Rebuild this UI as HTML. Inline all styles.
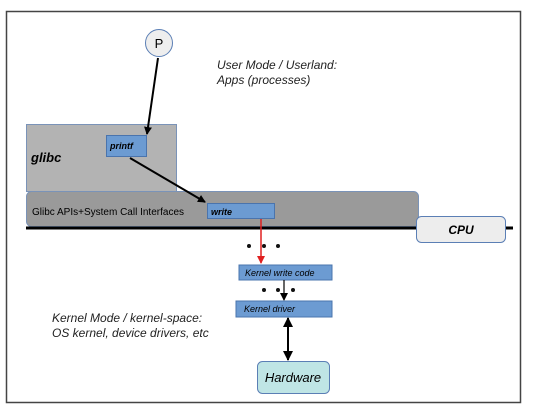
<!DOCTYPE html>
<html><head><style>
body{margin:0;width:538px;height:413px;background:#fff;overflow:hidden}
</style></head><body>
<svg width="538" height="413" xmlns="http://www.w3.org/2000/svg" font-family="Liberation Sans, sans-serif">
<defs>
<marker id="a" markerWidth="8" markerHeight="8" refX="7" refY="4" orient="auto" markerUnits="userSpaceOnUse"><path d="M0,0 L8,4 L0,8 z" fill="#000"/></marker>
<marker id="r" markerWidth="8" markerHeight="8" refX="7" refY="4" orient="auto" markerUnits="userSpaceOnUse"><path d="M0,0 L8,4 L0,8 z" fill="#e02020"/></marker>
<marker id="s" markerWidth="10" markerHeight="10" refX="9" refY="5" orient="auto-start-reverse" markerUnits="userSpaceOnUse"><path d="M0,0 L10,5 L0,10 z" fill="#000"/></marker>
</defs>
<rect x="6.5" y="11.5" width="514" height="391" fill="#fff" stroke="#444" stroke-width="1.5"/>
<circle cx="159" cy="43" r="13.5" fill="#eee" stroke="#5b7fb5"/>
<text x="159" y="48" font-size="13" text-anchor="middle">P</text>
<text x="217" y="69" font-size="12" font-style="italic" fill="#222">User Mode / Userland:</text>
<text x="217" y="84" font-size="12" font-style="italic" fill="#222">Apps (processes)</text>
<rect x="26.5" y="124.5" width="150" height="67" fill="#b3b3b3" stroke="#7a93b8"/>
<text x="31" y="162" font-size="13" font-weight="bold" font-style="italic">glibc</text>
<rect x="26.5" y="191.5" width="392" height="35" rx="5" fill="#9a9a9a" stroke="#7a93b8"/>
<text x="32" y="215" font-size="10">Glibc APIs+System Call Interfaces</text>
<rect x="106.5" y="135.5" width="40" height="21" fill="#6c9bd2" stroke="#4a74ad"/>
<text x="110" y="149" font-size="9" font-weight="bold" font-style="italic">printf</text>
<rect x="207.5" y="203.5" width="67" height="15" fill="#6c9bd2" stroke="#4a74ad"/>
<text x="211" y="215" font-size="9" font-weight="bold" font-style="italic">write</text>
<line x1="158" y1="58" x2="147" y2="134" stroke="#000" stroke-width="2" marker-end="url(#a)"/>
<line x1="130" y1="158" x2="205" y2="202" stroke="#000" stroke-width="2" marker-end="url(#a)"/>
<line x1="26" y1="228" x2="513" y2="228" stroke="#000" stroke-width="3"/>
<rect x="416.5" y="216.5" width="89" height="26" rx="5" fill="#ededed" stroke="#5b7fb5"/>
<text x="461" y="234" font-size="12" font-weight="bold" font-style="italic" text-anchor="middle">CPU</text>
<line x1="261" y1="219" x2="261" y2="263" stroke="#e02020" stroke-width="1.5" marker-end="url(#r)"/>
<circle cx="249" cy="246" r="2" fill="#111"/><circle cx="264" cy="246" r="2" fill="#111"/><circle cx="278" cy="246" r="2" fill="#111"/>
<rect x="239" y="265" width="93" height="15" fill="#6c9bd2" stroke="#4a74ad"/>
<text x="245" y="276" font-size="9" font-style="italic">Kernel write code</text>
<circle cx="264" cy="290" r="2" fill="#111"/><circle cx="278" cy="290" r="2" fill="#111"/><circle cx="293" cy="290" r="2" fill="#111"/>
<line x1="284" y1="280" x2="284" y2="300" stroke="#000" stroke-width="1.2" marker-end="url(#a)"/>
<rect x="236" y="301" width="96" height="16" fill="#6c9bd2" stroke="#4a74ad"/>
<text x="244" y="312" font-size="9" font-style="italic">Kernel driver</text>
<line x1="288" y1="318" x2="288" y2="360" stroke="#000" stroke-width="2" marker-start="url(#s)" marker-end="url(#s)"/>
<rect x="257.5" y="361.5" width="72" height="32" rx="5" fill="#bfe5e5" stroke="#5b7fb5"/>
<text x="293" y="382" font-size="13" font-style="italic" text-anchor="middle">Hardware</text>
<text x="52" y="322" font-size="12" font-style="italic" fill="#222">Kernel Mode / kernel-space:</text>
<text x="52" y="337" font-size="12" font-style="italic" fill="#222">OS kernel, device drivers, etc</text>
</svg>
</body></html>
